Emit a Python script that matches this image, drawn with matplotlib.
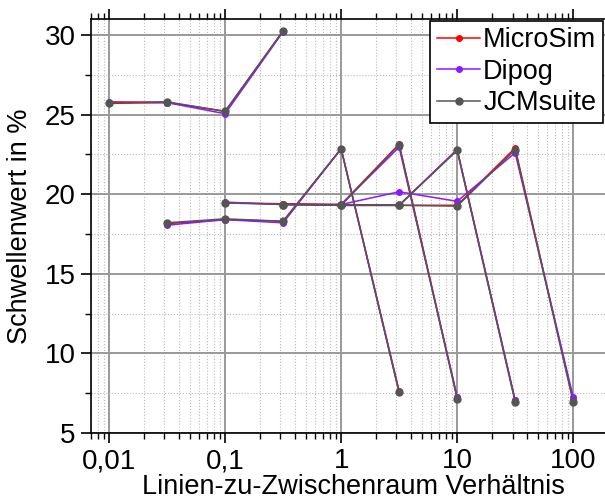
import numpy as np
import matplotlib.pyplot as plt
from matplotlib.ticker import FixedLocator, FuncFormatter, MultipleLocator, LogLocator

plt.rcParams['font.family'] = ['Liberation Sans', 'DejaVu Sans']

# x-Positionen der fünf Kurvenfamilien
x_k1 = [0.01, 0.0316, 0.1, 0.316]
x_k2 = [0.0316, 0.1, 0.316, 1, 3.16]
x_k3 = [0.1, 0.316, 1, 3.16, 10]
x_k4 = [0.316, 1, 3.16, 10, 31.6]
x_k5 = [1, 3.16, 10, 31.6, 100]
x_kurven = [x_k1, x_k2, x_k3, x_k4, x_k5]

# Schwellenwerte in %
microsim = [
    [25.7, 25.75, 25.2, 30.25],
    [18.15, 18.4, 18.3, 22.85, 7.65],
    [19.45, 19.4, 19.35, 23.15, 7.25],
    [19.4, 19.3, 19.3, 22.8, 7.05],
    [19.35, 19.3, 19.3, 22.9, 7.05],
]
dipog = [
    [25.8, 25.75, 25.05, 30.2],
    [18.05, 18.4, 18.2, 22.85, 7.55],
    [19.5, 19.35, 19.35, 22.95, 7.25],
    [19.35, 19.3, 19.3, 22.8, 7.05],
    [19.35, 20.15, 19.55, 22.6, 7.25],
]
jcmsuite = [
    [25.75, 25.8, 25.2, 30.25],
    [18.2, 18.45, 18.3, 22.85, 7.55],
    [19.45, 19.35, 19.3, 23.1, 7.15],
    [19.35, 19.3, 19.3, 22.75, 6.95],
    [19.3, 19.3, 19.25, 22.8, 6.95],
]

serien = [("MicroSim", microsim, "#ff0000", 4),
          ("Dipog", dipog, "#8c1aff", 4),
          ("JCMsuite", jcmsuite, "#555555", 5)]

fig = plt.figure(figsize=(6.05, 5.0), dpi=100)
# rechter Rand liegt absichtlich außerhalb des Bildes (wie im Original)
ax = fig.add_axes([0.15, 0.134, 0.87, 0.828])

for name, werte, farbe, ms in serien:
    for i, (xk, yk) in enumerate(zip(x_kurven, werte)):
        ax.plot(xk, yk, '-', color=farbe, lw=1.1, marker='o', ms=ms,
                label=name if i == 0 else None)

ax.set_xscale('log')
ax.set_xlim(0.00695, 239)
ax.set_ylim(5, 31)

ax.xaxis.set_major_locator(FixedLocator([0.01, 0.1, 1, 10, 100]))
ax.xaxis.set_minor_locator(LogLocator(base=10, subs=np.arange(2, 10)))
ax.xaxis.set_major_formatter(FuncFormatter(lambda v, p: f"{v:g}".replace('.', ',')))
ax.yaxis.set_major_locator(MultipleLocator(5))
ax.yaxis.set_minor_locator(MultipleLocator(2.5))

ax.grid(which='major', color='#999999', lw=1.4)
ax.grid(which='minor', color='#bbbbbb', lw=0.8, ls=':')
ax.set_axisbelow(True)

ax.tick_params(which='both', direction='out', top=True, right=True, labelsize=20)
ax.tick_params(which='major', length=7, width=1.2, pad=4)
ax.tick_params(which='minor', length=4, width=1.0)
for s in ax.spines.values():
    s.set_linewidth(1.2)

ax.set_xlabel("Linien-zu-Zwischenraum Verhältnis", fontsize=19.5, labelpad=0)
ax.set_ylabel("Schwellenwert in %", fontsize=19.5, labelpad=8)

leg = ax.legend(loc='upper right', bbox_to_anchor=(0.9967, 0.9586),
                bbox_transform=fig.transFigure, fontsize=19.5, fancybox=False,
                framealpha=1, edgecolor='black', borderaxespad=0,
                handlelength=1.6, handletextpad=0.1, labelspacing=0.2,
                borderpad=0.25)
leg.get_frame().set_linewidth(1.2)

fig.savefig("out.png", dpi=100)
